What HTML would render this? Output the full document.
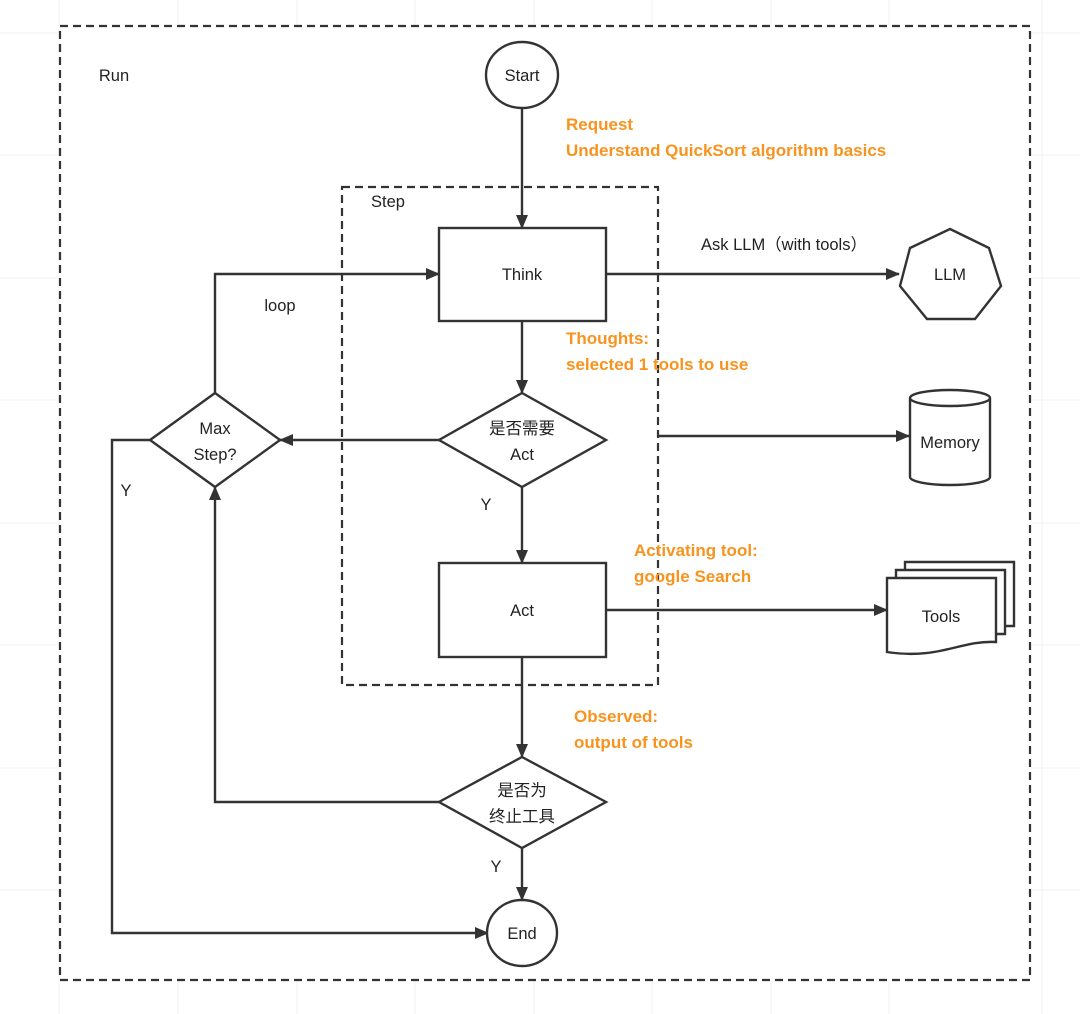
<!DOCTYPE html>
<html><head><meta charset="utf-8"><style>
html,body{margin:0;padding:0;background:#fff;}
svg{display:block;}
text{font-family:"Liberation Sans","Noto Sans CJK SC",sans-serif;font-size:16.5px;fill:#222;}
.o{fill:#f7931e;font-weight:bold;font-size:17px;}
</style></head><body>
<svg width="1080" height="1014" viewBox="0 0 1080 1014" xmlns="http://www.w3.org/2000/svg">
<defs>
<marker id="a" markerWidth="14" markerHeight="12" refX="13" refY="6" orient="auto" markerUnits="userSpaceOnUse" viewBox="0 0 14 12">
<path d="M0,0 L14,6 L0,12 z" fill="#333"/>
</marker>
</defs>
<g stroke="#f2f2f2" stroke-width="1">
<line x1="59" y1="0" x2="59" y2="1014"/><line x1="178" y1="0" x2="178" y2="1014"/><line x1="297" y1="0" x2="297" y2="1014"/><line x1="415" y1="0" x2="415" y2="1014"/><line x1="534" y1="0" x2="534" y2="1014"/><line x1="652" y1="0" x2="652" y2="1014"/><line x1="771" y1="0" x2="771" y2="1014"/><line x1="889" y1="0" x2="889" y2="1014"/><line x1="1042" y1="0" x2="1042" y2="1014"/>
<line x1="0" y1="33" x2="1080" y2="33"/><line x1="0" y1="155" x2="1080" y2="155"/><line x1="0" y1="278" x2="1080" y2="278"/><line x1="0" y1="400" x2="1080" y2="400"/><line x1="0" y1="523" x2="1080" y2="523"/><line x1="0" y1="645" x2="1080" y2="645"/><line x1="0" y1="768" x2="1080" y2="768"/><line x1="0" y1="890" x2="1080" y2="890"/>
</g>
<rect x="60" y="26" width="970" height="954" fill="#fff" stroke="none"/>
<rect x="60" y="26" width="970" height="954" fill="none" stroke="#333" stroke-width="2.2" stroke-dasharray="8,5"/>
<rect x="342" y="187" width="316" height="498" fill="none" stroke="#333" stroke-width="2.2" stroke-dasharray="8,5"/>
<g stroke="#333" stroke-width="2.4" fill="none">
<line x1="522" y1="108" x2="522" y2="228" marker-end="url(#a)"/>
<line x1="606" y1="274" x2="899" y2="274" marker-end="url(#a)"/>
<line x1="522" y1="321" x2="522" y2="393" marker-end="url(#a)"/>
<line x1="439" y1="440" x2="280" y2="440" marker-end="url(#a)"/>
<polyline points="215,393 215,274 439,274" marker-end="url(#a)"/>
<line x1="658" y1="436" x2="909" y2="436" marker-end="url(#a)"/>
<line x1="522" y1="487" x2="522" y2="563" marker-end="url(#a)"/>
<line x1="606" y1="610" x2="887" y2="610" marker-end="url(#a)"/>
<line x1="522" y1="657" x2="522" y2="757" marker-end="url(#a)"/>
<polyline points="439,802 215,802 215,487" marker-end="url(#a)"/>
<line x1="522" y1="848" x2="522" y2="900" marker-end="url(#a)"/>
<polyline points="150,440 112,440 112,933 488,933" marker-end="url(#a)"/>
</g>
<g stroke="#333" stroke-width="2.4" fill="#fff">
<ellipse cx="522" cy="75" rx="36" ry="33"/>
<rect x="439" y="228" width="167" height="93"/>
<polygon points="522,393 606,440 522,487 439,440"/>
<polygon points="215,393 280,440 215,487 150,440"/>
<rect x="439" y="563" width="167" height="94"/>
<polygon points="522,757 606,802 522,848 439,802"/>
<ellipse cx="522" cy="933" rx="35" ry="33"/>
<polygon points="950,229 989,248 1001,286 975,319 927,319 900,286 910,248"/>
<path d="M910,398 L910,477 A40,8 0 0 0 990,477 L990,398 A40,8 0 0 0 910,398 A40,8 0 0 0 990,398"/>
<path d="M905,562 L1014,562 L1014,626 L905,626 z"/>
<path d="M896,570 L1005,570 L1005,634 L896,634 z"/>
<path d="M887,578 L996,578 L996,642 C960,640 940,660 887,652 z"/>
</g>
<text x="114" y="81" text-anchor="middle">Run</text>
<text x="388" y="207" text-anchor="middle">Step</text>
<text x="280" y="311" text-anchor="middle">loop</text>
<text x="522" y="81" text-anchor="middle">Start</text>
<text x="522" y="280" text-anchor="middle">Think</text>
<text x="522" y="434" text-anchor="middle">是否需要</text>
<text x="522" y="460" text-anchor="middle">Act</text>
<text x="215" y="434" text-anchor="middle">Max</text>
<text x="215" y="460" text-anchor="middle">Step?</text>
<text x="522" y="616" text-anchor="middle">Act</text>
<text x="522" y="796" text-anchor="middle">是否为</text>
<text x="522" y="822" text-anchor="middle">终止工具</text>
<text x="522" y="939" text-anchor="middle">End</text>
<text x="126" y="496" text-anchor="middle">Y</text>
<text x="486" y="510" text-anchor="middle">Y</text>
<text x="496" y="872" text-anchor="middle">Y</text>
<text x="950" y="280" text-anchor="middle">LLM</text>
<text x="950" y="448" text-anchor="middle">Memory</text>
<text x="941" y="622" text-anchor="middle">Tools</text>
<text x="701" y="250">Ask LLM（with tools）</text>
<text class="o" x="566" y="130">Request</text>
<text class="o" x="566" y="156">Understand QuickSort algorithm basics</text>
<text class="o" x="566" y="344">Thoughts:</text>
<text class="o" x="566" y="370">selected 1 tools to use</text>
<text class="o" x="634" y="556">Activating tool:</text>
<text class="o" x="634" y="582">google Search</text>
<text class="o" x="574" y="722">Observed:</text>
<text class="o" x="574" y="748">output of tools</text>
</svg>
</body></html>
